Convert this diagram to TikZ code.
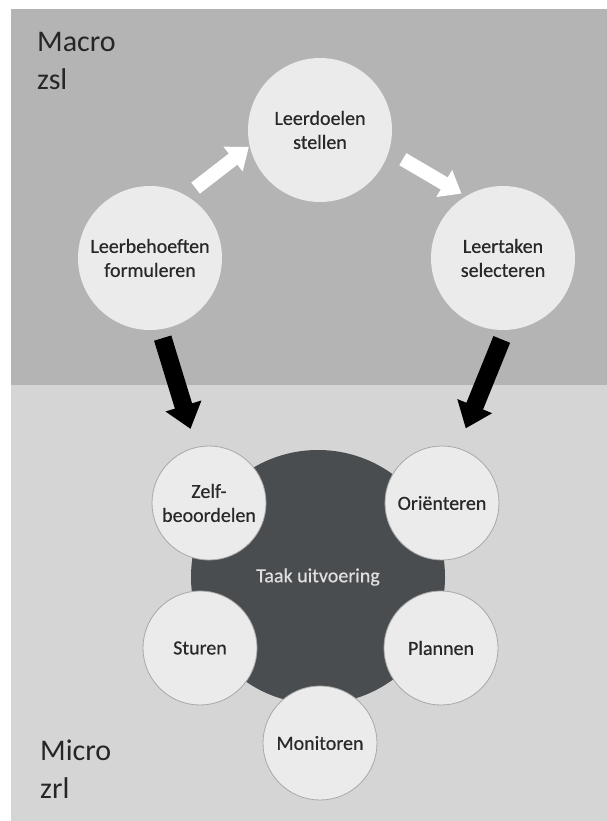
\documentclass[tikz,border=0pt]{standalone}
\usepackage{fontspec}
\setmainfont{Carlito}
\newfontfamily\stagefont[FakeBold=0.5]{Carlito}
\usetikzlibrary{arrows.meta}
\definecolor{macrogray}{RGB}{179,180,179}
\definecolor{microgray}{RGB}{212,213,212}
\definecolor{bubble}{RGB}{235,235,235}
\definecolor{rim}{RGB}{168,168,168}
\definecolor{core}{RGB}{74,77,79}
\definecolor{ink}{RGB}{40,40,40}

\begin{document}
\begin{tikzpicture}[x=1pt,y=1pt]
\tikzstyle{every node}+=[inner sep=0pt, align=center, text=ink, font=\stagefont\fontsize{20}{24}\selectfont]
\tikzstyle{bigstage}=[circle, fill=bubble, minimum size=144pt]
\tikzstyle{smallstage}=[circle, fill=bubble, draw=rim, line width=0.8pt, minimum size=114pt]
\tikzstyle{level}=[anchor=base west, text=black!85, font=\fontsize{30}{36}\selectfont]
\tikzstyle{flow}=[white, line width=14pt, -{Triangle[length=20pt,width=30pt]}]
\tikzstyle{drop}=[black, line width=18pt, -{Triangle[length=24pt,width=36pt]}]
\useasboundingbox (0,0) rectangle (607,-821);
% achtergrond
\fill [macrogray] (11,-9) rectangle (607,-385);
\fill [microgray] (11,-385) rectangle (607,-821);
\node [level] (macro) at (37,-52) {Macro};
\node [level] (zsl) at (37,-90) {zsl};
\node [level] (micro) at (40,-760) {Micro};
\node [level] (zrl) at (40,-798) {zrl};
% macro niveau
\node [bigstage] (behoeften) at (150,-258) {Leerbehoeften\\formuleren};
\node [bigstage] (doelen) at (320,-130) {Leerdoelen\\stellen};
\node [bigstage] (taken) at (503,-258) {Leertaken\\selecteren};
\draw [flow, shorten <=12pt, shorten >=1pt] (behoeften.60) -- (doelen.193);
\draw [flow, shorten <=16pt, shorten >=5pt] (doelen.-17) -- (taken.121);
% micro niveau
\node [circle, fill=core, minimum size=254pt, text=black!12] (taak) at (318,-577) {Taak uitvoering};
\node [smallstage] (zelf) at (209,-503) {Zelf-\\beoordelen};
\node [smallstage] (orient) at (442,-503) {Ori\"enteren};
\node [smallstage] (sturen) at (200,-648) {Sturen};
\node [smallstage] (plannen) at (441,-648) {Plannen};
\node [smallstage] (monitoren) at (320,-743) {Monitoren};
\draw [drop, shorten <=9pt, shorten >=19pt] (behoeften.-82) -- (zelf.103);
\draw [drop, shorten <=10pt, shorten >=21pt] (taken.-88) -- (orient.74);
\end{tikzpicture}
\end{document}
